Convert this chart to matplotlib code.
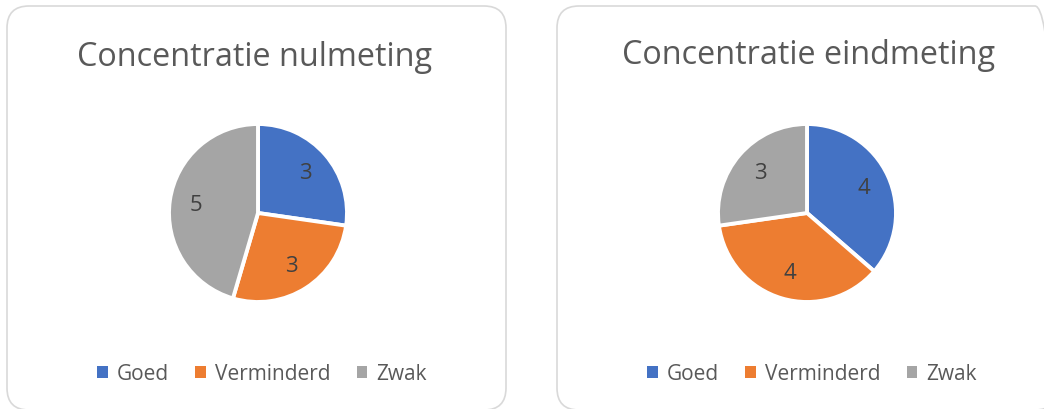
import matplotlib
matplotlib.use("Agg")
import matplotlib.pyplot as plt
from matplotlib.patches import FancyBboxPatch, Patch

categories = ["Goed", "Verminderd", "Zwak"]
nulmeting = [3, 3, 5]
eindmeting = [4, 4, 3]
titles = ["Concentratie nulmeting", "Concentratie eindmeting"]
colors = ["#4472C4", "#ED7D31", "#A5A5A5"]
text_color = "#595959"

plt.rcParams['font.family'] = ['Open Sans', 'DejaVu Sans']

W, H = 1044, 410
fig = plt.figure(figsize=(W / 100, H / 100), dpi=100)
fig.patch.set_facecolor("white")

# panel borders (pixel coords -> figure coords)
panels = [(7, 7, 499, 404), (557, 7, 500, 404)]
rad = 22
for (x, y, w, h) in panels:
    fig.patches.append(FancyBboxPatch((x / W, 1 - (y + h) / H), w / W, h / H,
                                      boxstyle=f"round,pad=0,rounding_size={rad / W}",
                                      transform=fig.transFigure, facecolor="none",
                                      edgecolor="#D9D9D9", linewidth=1.2,
                                      mutation_aspect=W / H, zorder=0))

centers = [(258, 214), (807, 214)]
title_centers = [(255, 57), (809, 55)]
legend_centers = [(262, 375), (812, 375)]
R = 89
lim = 1.06
datasets = [nulmeting, eindmeting]

for i, vals in enumerate(datasets):
    cx, cy = centers[i]
    size = 2 * R * lim
    ax = fig.add_axes([(cx - size / 2) / W, 1 - (cy + size / 2) / H, size / W, size / H])
    wedges, texts, autotexts = ax.pie(
        vals, colors=colors, startangle=90, counterclock=False,
        autopct=lambda p, v=vals: f"{round(p * sum(v) / 100):d}",
        pctdistance=0.70,
        wedgeprops=dict(edgecolor="white", linewidth=2.8),
        textprops=dict(color="#404040", fontsize=16))
    ax.set_xlim(-lim, lim)
    ax.set_ylim(-lim, lim)
    ax.set_aspect("equal")
    ax.axis("off")
    tx, ty = title_centers[i]
    fig.text(tx / W, 1 - ty / H, titles[i], ha="center", va="center",
             fontsize=23.3, color=text_color)
    handles = [Patch(facecolor=c, edgecolor="none") for c in colors]
    lx, ly = legend_centers[i]
    fig.legend(handles, categories, loc="center", bbox_to_anchor=(lx / W, 1 - ly / H),
               ncol=3, frameon=False, fontsize=15, labelcolor=text_color,
               handlelength=0.5, handleheight=0.5, handletextpad=0.45,
               columnspacing=1.25)

fig.savefig("out.png", dpi=100, facecolor="white")
